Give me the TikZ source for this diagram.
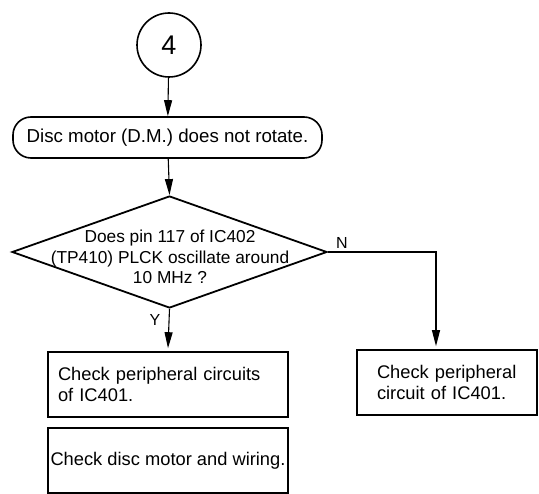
\documentclass[tikz,border=0pt]{standalone}
\usepackage{fontspec}
\setmainfont{Liberation Sans}
\usetikzlibrary{shapes.geometric,arrows.meta}
\begin{document}
\begin{tikzpicture}[x=1pt,y=-1pt,
 line width=1.6pt,
 arr/.style={-{Triangle[length=16pt,width=8pt]}, line width=1.1pt},
 txt/.style={font=\fontsize{18.3}{21}\selectfont},
 box/.style={draw, rectangle, inner sep=0pt, minimum height=65pt, txt},
 lbl/.style={font=\fontsize{16}{16}\selectfont, inner sep=0pt},
]
\useasboundingbox (0,0) rectangle (539,494);
\node[draw, circle, minimum size=64pt, inner sep=0pt, font=\fontsize{27}{27}\selectfont] (c) at (169,45) {4};
\node[draw, rectangle, rounded corners=18pt, minimum width=309pt, minimum height=41pt, inner sep=0pt, font=\fontsize{18.7}{21}\selectfont] (s) at (167.5,137.5) {Disc motor (D.M.) does not rotate.};
\node[draw, diamond, minimum width=315pt, minimum height=112pt, inner sep=0pt, line width=1.8pt] (d) at (169.5,252) {};
\node[align=center, font=\fontsize{17.3}{20.5}\selectfont, inner sep=0pt] (dt) at (170,257) {Does pin 117 of IC402\\(TP410) PLCK oscillate around\\10 MHz ?};
\node[box, minimum width=240pt, text width=220pt, align=left, inner xsep=10pt] (b1) at (168,384.5) {Check peripheral circuits\\of IC401.};
\node[box, minimum width=240pt, align=center] (b2) at (168,460.5) {Check disc motor and wiring.};
\node[box, minimum width=180pt, text width=140pt, align=left, inner xsep=20pt] (b3) at (447,382.5) {Check peripheral\\circuit of IC401.};
\node[lbl] (y) at (155,320) {Y};
\node[lbl] (n) at (342,243) {N};
\draw[arr] (c) -- (s);
\draw[arr] (s) -- (d.north);
\draw[arr] (d.south) -- ([yshift=3pt]b1.north);
\draw[arr] (d.east) -| ([xshift=-11pt,yshift=3pt]b3.north);
\end{tikzpicture}
\end{document}
